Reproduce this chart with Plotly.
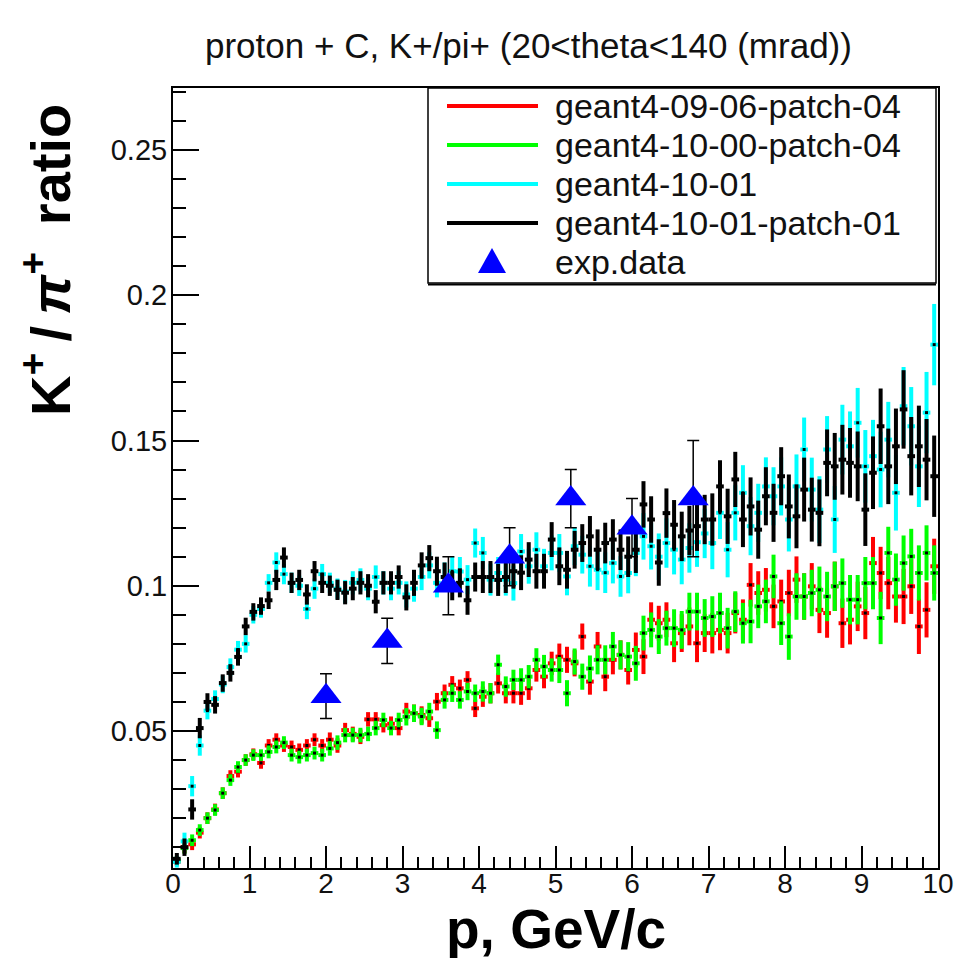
import plotly.graph_objects as go

# ---------------- data ----------------
p_centres = [round(0.05 + 0.1 * i, 2) for i in range(100)]   # 0.1 GeV/c bins
half_bin = [0.05] * 100

g4_09_06_p04 = [  # red
    0.005, 0.010, 0.011, 0.015, 0.020, 0.023, 0.0286, 0.0345, 0.036, 0.040,
    0.042, 0.039, 0.045, 0.047, 0.045, 0.0445, 0.0435, 0.045, 0.047, 0.045,
    0.047, 0.045, 0.0503, 0.049, 0.048, 0.054, 0.054, 0.052, 0.0525, 0.051,
    0.0567, 0.0561, 0.0555, 0.0544, 0.0601, 0.063, 0.0659, 0.0647, 0.0676, 0.0578,
    0.0618, 0.063, 0.0664, 0.063, 0.063, 0.063, 0.0647, 0.0710, 0.0687, 0.0733,
    0.0756, 0.0745, 0.0733, 0.0825, 0.0670, 0.0791, 0.0687, 0.0745, 0.0762, 0.0710,
    0.0779, 0.0756, 0.0883, 0.0871, 0.0883, 0.0802, 0.0837, 0.0860, 0.0802, 0.0837,
    0.0837, 0.0848, 0.0837, 0.0906, 0.0883, 0.1003, 0.0975, 0.0986, 0.0929, 0.0946,
    0.0975, 0.1021, 0.0963, 0.0998, 0.0917, 0.0906, 0.0998, 0.0871, 0.0883, 0.0929,
    0.0906, 0.1078, 0.1044, 0.1009, 0.0963, 0.0963, 0.0998, 0.0860, 0.0917, 0.1067,
]
g4_10_00_p04 = [  # green
    0.0055, 0.0097, 0.0124, 0.0159, 0.020, 0.0228, 0.0286, 0.0331, 0.0376, 0.040,
    0.0417, 0.0417, 0.0428, 0.0445, 0.046, 0.0417, 0.041, 0.0417, 0.0424, 0.0417,
    0.044, 0.046, 0.0486, 0.0486, 0.0486, 0.049, 0.051, 0.0538, 0.051, 0.0538,
    0.0549, 0.0561, 0.0550, 0.0567, 0.0503, 0.0607, 0.063, 0.0607, 0.0636, 0.063,
    0.0636, 0.063, 0.0728, 0.0653, 0.0676, 0.0676, 0.0687, 0.0745, 0.0722, 0.0710,
    0.0710, 0.063, 0.0739, 0.0687, 0.0715, 0.0745, 0.0745, 0.0791, 0.0762, 0.0756,
    0.0733, 0.0837, 0.0848, 0.0825, 0.0854, 0.0854, 0.0848, 0.0911, 0.0911, 0.0889,
    0.0894, 0.0906, 0.0854, 0.0911, 0.0871, 0.0877, 0.0929, 0.0946, 0.1032, 0.0871,
    0.0825, 0.0963, 0.0963, 0.0975, 0.0986, 0.0963, 0.0998, 0.1009, 0.0952, 0.0952,
    0.1009, 0.1009, 0.0889, 0.1113, 0.1021, 0.1078, 0.1101, 0.1044, 0.1113, 0.1044,
]
g4_10_01 = [  # cyan
    0.005, 0.012, 0.031, 0.045, 0.057, 0.061, 0.066, 0.072, 0.078, 0.080,
    0.090, 0.092, 0.101, 0.108, 0.104, 0.101, 0.100, 0.092, 0.099, 0.104,
    0.101, 0.099, 0.098, 0.101, 0.102, 0.099, 0.103, 0.101, 0.099, 0.101,
    0.097, 0.099, 0.103, 0.107, 0.101, 0.103, 0.105, 0.1049, 0.1021, 0.1147,
    0.1113, 0.1021, 0.1044, 0.1021, 0.1009, 0.1118, 0.1067, 0.1124, 0.1067, 0.1113,
    0.1113, 0.1032, 0.1136, 0.1107, 0.1067, 0.1055, 0.1045, 0.1078, 0.1032, 0.1044,
    0.1113, 0.117, 0.1136, 0.110, 0.1147, 0.1124, 0.109, 0.113, 0.115, 0.118,
    0.1147, 0.1251, 0.1124, 0.1251, 0.1320, 0.1205, 0.1251, 0.1342, 0.1308, 0.1342,
    0.1228, 0.1342, 0.1469, 0.1331, 0.1262, 0.1469, 0.1228, 0.1503, 0.1480, 0.1561,
    0.1411, 0.1446, 0.1400, 0.1503, 0.1320, 0.1618, 0.1549, 0.1411, 0.1596, 0.183,
]
g4_10_01_p01 = [  # black
    0.006, 0.010, 0.023, 0.051, 0.060, 0.059, 0.0665, 0.070, 0.0755, 0.086,
    0.091, 0.093, 0.095, 0.102, 0.1097, 0.101, 0.102, 0.097, 0.105, 0.101,
    0.100, 0.0986, 0.0976, 0.099, 0.101, 0.100, 0.0945, 0.101, 0.101, 0.103,
    0.096, 0.101, 0.107, 0.1095, 0.105, 0.103, 0.100, 0.101, 0.095, 0.103,
    0.103, 0.103, 0.102, 0.103, 0.105, 0.1045, 0.109, 0.105, 0.105, 0.1159,
    0.1067, 0.1055, 0.1124, 0.1147, 0.117, 0.1124, 0.1147, 0.1159, 0.1124, 0.110,
    0.1124, 0.128, 0.1228, 0.108, 0.125, 0.121, 0.117, 0.119, 0.1205, 0.1228,
    0.1228, 0.1342, 0.1239, 0.1366, 0.1228, 0.1273, 0.1193, 0.1308, 0.1251, 0.1377,
    0.1273, 0.1239, 0.1331, 0.1262, 0.1251, 0.1423, 0.1411, 0.1434, 0.1423, 0.1411,
    0.1262, 0.1389, 0.1549, 0.1411, 0.148, 0.1607, 0.1446, 0.148, 0.1434, 0.1377,
]

err_upper = [
    0.002, 0.003, 0.0035, 0.0035, 0.003, 0.003, 0.003, 0.003, 0.003, 0.003,
    0.003, 0.003, 0.003, 0.0035, 0.0035, 0.0035, 0.0035, 0.0035, 0.0035, 0.0035,
    0.0035, 0.0035, 0.004, 0.004, 0.004, 0.004, 0.004, 0.004, 0.004, 0.004,
    0.0045, 0.0045, 0.0045, 0.0045, 0.005, 0.005, 0.005, 0.005, 0.005, 0.005,
    0.0055, 0.0055, 0.0055, 0.0055, 0.006, 0.006, 0.006, 0.006, 0.006, 0.006,
    0.0065, 0.0065, 0.0065, 0.0065, 0.007, 0.007, 0.007, 0.007, 0.007, 0.007,
    0.008, 0.008, 0.008, 0.008, 0.0085, 0.0085, 0.0085, 0.0085, 0.0085, 0.0085,
    0.009, 0.009, 0.0095, 0.0095, 0.0095, 0.010, 0.010, 0.010, 0.010, 0.010,
    0.011, 0.011, 0.011, 0.011, 0.0115, 0.0115, 0.0115, 0.012, 0.012, 0.012,
    0.0125, 0.0125, 0.013, 0.013, 0.013, 0.0135, 0.0135, 0.014, 0.014, 0.014,
]
err_lower = [
    0.0015, 0.002, 0.002, 0.002, 0.002, 0.002, 0.002, 0.002, 0.002, 0.002,
    0.002, 0.002, 0.0022, 0.0022, 0.0022, 0.0022, 0.0022, 0.0022, 0.0022, 0.0022,
    0.0025, 0.0025, 0.0025, 0.0025, 0.0025, 0.0025, 0.0025, 0.0025, 0.0025, 0.0025,
    0.003, 0.003, 0.003, 0.003, 0.003, 0.003, 0.003, 0.003, 0.003, 0.003,
    0.0035, 0.0035, 0.0035, 0.0035, 0.0035, 0.004, 0.004, 0.004, 0.004, 0.004,
    0.0045, 0.0045, 0.0045, 0.0045, 0.0045, 0.005, 0.005, 0.005, 0.005, 0.005,
    0.006, 0.006, 0.006, 0.006, 0.006, 0.0065, 0.0065, 0.0065, 0.0065, 0.0065,
    0.007, 0.007, 0.007, 0.007, 0.007, 0.0075, 0.0075, 0.0075, 0.0075, 0.0075,
    0.008, 0.008, 0.008, 0.008, 0.008, 0.0085, 0.0085, 0.0085, 0.0085, 0.0085,
    0.009, 0.009, 0.009, 0.009, 0.009, 0.0095, 0.0095, 0.0095, 0.0095, 0.0095,
]

exp_p = [2.0, 2.8, 3.6, 4.4, 5.2, 6.0, 6.8]
exp_ratio = [0.062, 0.081, 0.100, 0.110, 0.130, 0.120, 0.130]
exp_err = [0.0077, 0.0078, 0.010, 0.010, 0.010, 0.010, 0.020]

series_names = ["geant4-09-06-patch-04", "geant4-10-00-patch-04",
                "geant4-10-01", "geant4-10-01-patch-01"]
series_values = [g4_09_06_p04, g4_10_00_p04, g4_10_01, g4_10_01_p01]
series_errors = [err_lower, err_lower, err_upper, err_upper]
series_colors = ["#ff0000", "#00ff00", "#00ffff", "#000000"]
exp_name = "exp.data"
exp_color = "#0000ff"

y_tick_vals = [0.05, 0.1, 0.15, 0.2, 0.25]
y_tick_text = ["0.05", "0.1", "0.15", "0.2", "0.25"]
x_tick_vals = list(range(0, 11))
x_tick_text = [str(v) for v in x_tick_vals]

# ---------------- figure ----------------
W, H = 954, 962
L, R, T, B = 173, 16, 88, 94
plot_w, plot_h = W - L - R, H - T - B

def px_x(px):
    return (px - L) / plot_w

def px_y(py):
    return (H - B - py) / plot_h

FONT = "Liberation Sans, Arial, Helvetica, sans-serif"
TXT = "#111111"

fig = go.Figure()

for name, vals, errs, col in zip(series_names, series_values, series_errors, series_colors):
    fig.add_trace(go.Scatter(
        x=p_centres, y=vals, mode="markers", name=name, showlegend=False,
        marker=dict(color="black", size=3, symbol="square"),
        error_x=dict(type="data", array=half_bin, color=col, thickness=4, width=0),
        error_y=dict(type="data", array=errs, color=col, thickness=4, width=0),
        hoverinfo="x+y+name",
    ))

fig.add_trace(go.Scatter(
    x=exp_p, y=exp_ratio, mode="markers", name=exp_name, showlegend=False,
    marker=dict(color=exp_color, size=27, symbol="triangle-up", line=dict(width=0)),
    error_y=dict(type="data", array=exp_err, color="black", thickness=1.5, width=6),
))

# ---------------- legend box drawn in the ROOT style ----------------
shapes = []
annotations = []
leg_x0, leg_x1, leg_y0, leg_y1 = 428, 936, 88, 283
shapes.append(dict(type="rect", xref="paper", yref="paper", layer="above",
                   x0=px_x(leg_x0), x1=px_x(leg_x1), y0=px_y(leg_y1), y1=px_y(leg_y0),
                   line=dict(color="black", width=1.5), fillcolor="white"))
shapes.append(dict(type="line", xref="paper", yref="paper", layer="above",
                   x0=px_x(leg_x0), x1=px_x(leg_x1), y0=px_y(leg_y1 + 1.5), y1=px_y(leg_y1 + 1.5),
                   line=dict(color="black", width=2)))
row_y = [106, 145, 184, 223, 262]
for i, (name, col) in enumerate(zip(series_names, series_colors)):
    shapes.append(dict(type="line", xref="paper", yref="paper", layer="above",
                       x0=px_x(447), x1=px_x(538), y0=px_y(row_y[i]), y1=px_y(row_y[i]),
                       line=dict(color=col, width=4)))
    annotations.append(dict(text=name, xref="paper", yref="paper",
                            x=px_x(553), y=px_y(row_y[i]), xanchor="left", yanchor="middle",
                            showarrow=False, font=dict(family=FONT, size=34, color=TXT)))
ty = row_y[4]
shapes.append(dict(type="path", xref="paper", yref="paper", layer="above",
                   path="M {:.5f} {:.5f} L {:.5f} {:.5f} L {:.5f} {:.5f} Z".format(
                       px_x(478), px_y(ty + 11), px_x(506), px_y(ty + 11), px_x(492), px_y(ty - 14)),
                   line=dict(color=exp_color, width=0), fillcolor=exp_color))
annotations.append(dict(text=exp_name, xref="paper", yref="paper",
                        x=px_x(553), y=px_y(ty), xanchor="left", yanchor="middle",
                        showarrow=False, font=dict(family=FONT, size=34, color=TXT)))

annotations += [
    dict(text="proton + C, K+/pi+ (20<theta<140 (mrad))",
         xref="paper", yref="paper", x=px_x(528), y=px_y(46),
         xanchor="center", yanchor="middle", showarrow=False,
         font=dict(family=FONT, size=35, color=TXT)),
    dict(text="<b>p, GeV/c</b>",
         xref="paper", yref="paper", x=0.5, y=px_y(959),
         xanchor="center", yanchor="bottom", showarrow=False,
         height=58, valign="middle", borderpad=0,
         font=dict(family=FONT, size=55, color="black")),
    dict(text="<b>K<sup>+</sup>\u2009/\u2009<i>π</i><sup>+</sup>\u2009 ratio</b>",
         xref="paper", yref="paper", x=px_x(46), y=px_y(102),
         xanchor="center", yanchor="top", textangle=-90, showarrow=False,
         font=dict(family=FONT, size=56, color="black")),
]

fig.update_layout(
    width=W, height=H,
    margin=dict(l=L, r=R, t=T, b=B, autoexpand=False),
    paper_bgcolor="white", plot_bgcolor="white",
    font=dict(family=FONT, color="black"),
    showlegend=False,
    shapes=shapes,
    annotations=annotations,
    xaxis=dict(
        range=[0, 10], showgrid=False, zeroline=False, automargin=False,
        showline=True, linecolor="black", linewidth=2, mirror=True,
        ticks="inside", ticklen=22, tickwidth=1.5, tickcolor="black",
        tickvals=x_tick_vals, ticktext=x_tick_text,
        tickfont=dict(family=FONT, size=28, color=TXT),
        ticklabelstandoff=-11,
        minor=dict(ticks="inside", ticklen=11, tickwidth=1.5, tickcolor="black",
                   dtick=0.2, tick0=0, showgrid=False),
    ),
    yaxis=dict(
        range=[0.00284, 0.27134], showgrid=False, zeroline=False, automargin=False,
        showline=True, linecolor="black", linewidth=2, mirror=True,
        ticks="inside", ticklen=26, tickwidth=1.5, tickcolor="black",
        tickvals=y_tick_vals, ticktext=y_tick_text,
        tickfont=dict(family=FONT, size=29, color=TXT),
        ticklabelstandoff=-2,
        minor=dict(ticks="inside", ticklen=13, tickwidth=1.5, tickcolor="black",
                   dtick=0.01, tick0=0, showgrid=False),
    ),
)

fig.write_html("out.html", config={"displayModeBar": False},
               post_script="document.body.style.margin='0px';document.body.style.padding='0px';")
